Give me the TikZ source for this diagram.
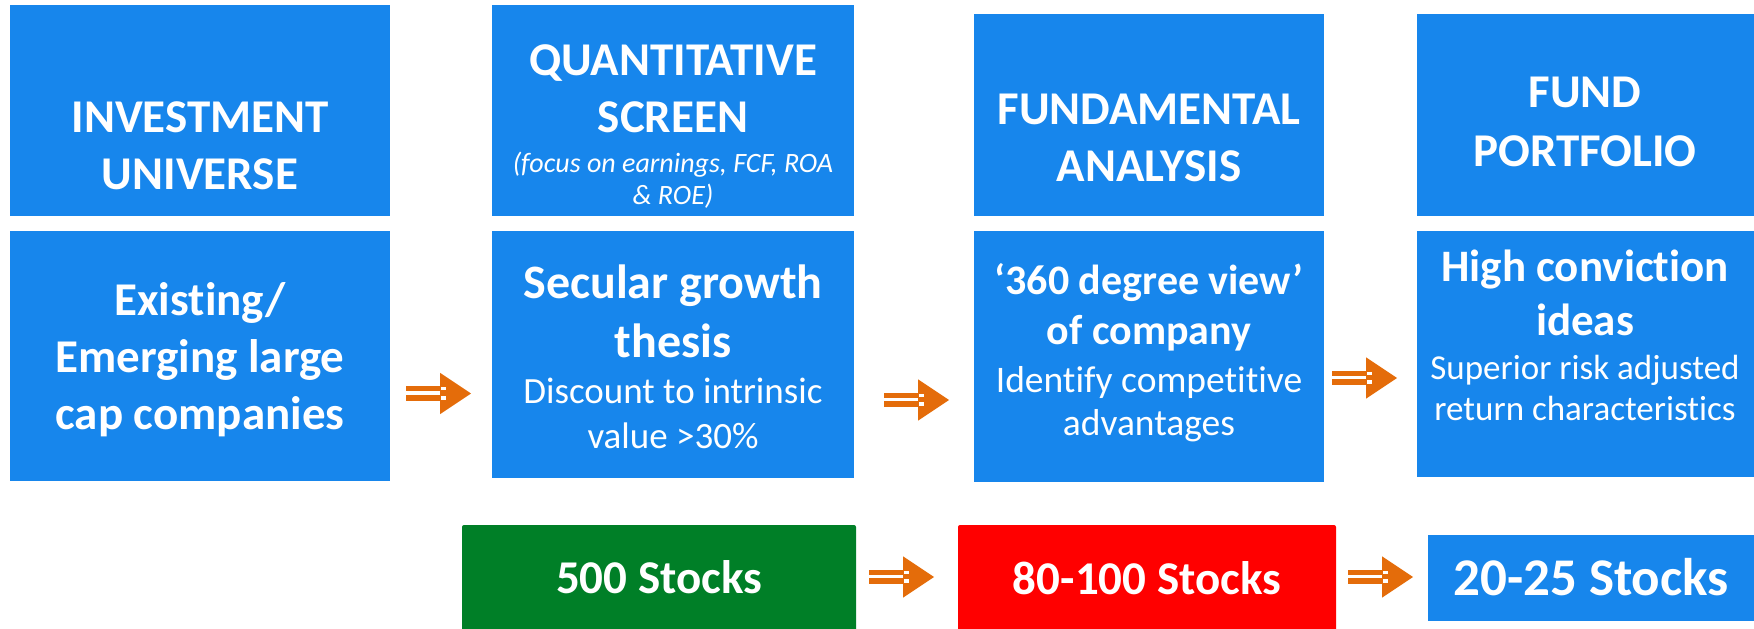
\documentclass[tikz,border=0pt]{standalone}
\usepackage{fontspec}
\setmainfont{Carlito}[Ligatures={TeX,NoCommon}]
\definecolor{boxblue}{HTML}{1786EC}
\definecolor{stockgreen}{HTML}{007F27}
\definecolor{stockred}{HTML}{FF0000}
\definecolor{arroworange}{HTML}{E46C0A}
\tikzset{
  pics/dblarrow/.style={code={
    \fill[arroworange] (0,-7.4) rectangle (35,-2.1);
    \fill[arroworange] (0,1) rectangle (35,7.3);
    \fill[arroworange] (34,-20.7) -- (65,0) -- (34,20.7) -- cycle;
    \fill[white] (35,-6.2) rectangle (39.7,-3.3);
    \fill[white] (35,2.2) rectangle (39.7,6.1);
  }}
}
\begin{document}
\begin{tikzpicture}[x=1pt,y=-1pt,
    panel/.style={fill=#1, inner sep=0pt, outer sep=0pt, anchor=north west},
    panel/.default=boxblue,
    head/.style={text=white, align=center, anchor=base, inner sep=0pt,
      font=\fontsize{47}{57}\selectfont\bfseries},
    sub/.style={text=white, align=center, anchor=base, inner sep=0pt,
      font=\fontsize{37}{44}\selectfont},
    note/.style={text=white, align=center, anchor=base, inner sep=0pt,
      font=\fontsize{28}{32}\selectfont\itshape}]
	\useasboundingbox (0,0) rectangle (1754,629);
	% top row
	\node[panel, minimum width=380pt, minimum height=211pt] (univ) at (10,5) {};
	\node[panel, minimum width=362pt, minimum height=211pt] (quant) at (492,5) {};
	\node[panel, minimum width=350pt, minimum height=202pt] (fund) at (974,14) {};
	\node[panel, minimum width=337pt, minimum height=202pt] (port) at (1417,14) {};
	% second row
	\node[panel, minimum width=380pt, minimum height=250pt] (univ2) at (10,231) {};
	\node[panel, minimum width=362pt, minimum height=247pt] (quant2) at (492,231) {};
	\node[panel, minimum width=350pt, minimum height=251pt] (fund2) at (974,231) {};
	\node[panel, minimum width=337pt, minimum height=246pt] (port2) at (1417,231) {};
	% stock counts
	\node[panel=stockgreen, rounded corners=2pt, minimum width=394pt, minimum height=110pt] (s500) at (462,525) {};
	\node[panel=stockred, rounded corners=2pt, minimum width=378pt, minimum height=110pt] (s100) at (958,525) {};
	\node[panel, minimum width=326pt, minimum height=86pt] (s25) at (1428,535) {};

	% labels (base = last line)
	\node[head] (univ-t) at (200,189) {INVESTMENT\\UNIVERSE};
	\node[head] (quant-t) at (673,132) {QUANTITATIVE\\SCREEN};
	\node[note] (quant-n) at (673,204) {(focus on earnings, FCF, ROA\\\& ROE)};
	\node[head] (fund-t) at (1149,181) {FUNDAMENTAL\\ANALYSIS};
	\node[head, font=\fontsize{47}{59}\selectfont\bfseries] (port-t) at (1585,166) {FUND\\PORTFOLIO};

	\node[head] (univ2-t) at (200,429) {Existing/\\Emerging large\\cap companies};
	\node[head, font=\fontsize{48}{59}\selectfont\bfseries] (quant2-t) at (673,357) {Secular growth\\thesis};
	\node[sub, font=\fontsize{37}{45}\selectfont] (quant2-s) at (673,448) {Discount to intrinsic\\value >30\%};
	\node[head, font=\fontsize{42}{50}\selectfont\bfseries] (fund2-t) at (1149,344) {`360 degree view'\\of company};
	\node[sub, font=\fontsize{37.5}{43}\selectfont] (fund2-s) at (1149,435) {Identify competitive\\advantages};
	\node[head, font=\fontsize{45}{54}\selectfont\bfseries] (port2-t) at (1585,335) {High conviction\\ideas};
	\node[sub, font=\fontsize{35}{41}\selectfont] (port2-s) at (1585,420) {Superior risk adjusted\\return characteristics};

	\node[head] (s500-t) at (659,593) {500 Stocks};
	\node[head] (s100-t) at (1147,594) {80-100 Stocks};
	\node[head, font=\fontsize{53}{64}\selectfont\bfseries] (s25-t) at (1591,595) {20-25 Stocks};

	% arrows
	\pic at (406,393.5) {dblarrow};
	\pic at (884,400) {dblarrow};
	\pic at (1332,378) {dblarrow};
	\pic at (869,577) {dblarrow};
	\pic at (1348,577) {dblarrow};
\end{tikzpicture}
\end{document}
